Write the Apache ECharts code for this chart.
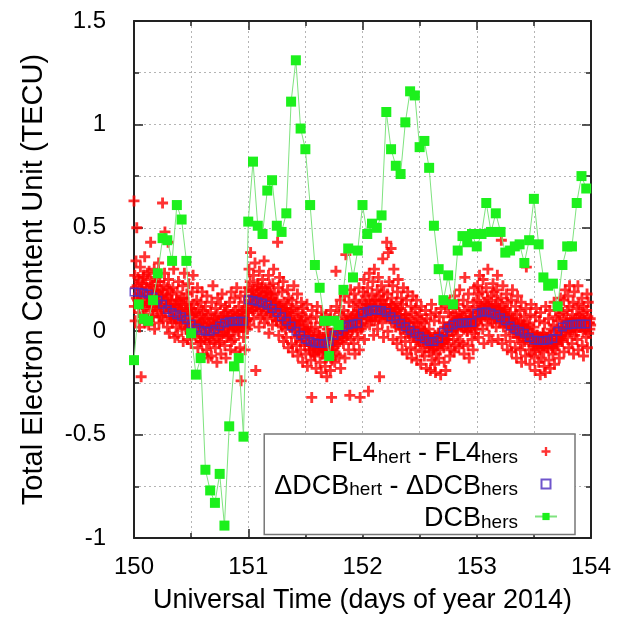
<!DOCTYPE html>
<html>
<head>
<meta charset="utf-8">
<script src="https://cdn.jsdelivr.net/npm/echarts@6.0.0/dist/echarts.min.js"></script>
<style>
html,body{margin:0;padding:0;background:#fff;}
#chart{width:618px;height:620px;}
</style>
</head>
<body>
<div id="chart"></div>
<script>
// ---- data ----
const xTickLabels = [150, 151, 152, 153, 154];
const yTickLabels = [-1, -0.5, 0, 0.5, 1, 1.5];
const seriesNames = ['FL4hert - FL4hers', 'ΔDCBhert - ΔDCBhers', 'DCBhers'];

// hourly samples starting at day 150.0
const dcbDiff = [
  0.19,0.188,0.185,0.18,0.165,0.15,0.13,0.105,0.09,0.08,0.07,0.055,0.035,0.015,0.005,0.0,0.0,0.01,0.025,0.04,0.046,0.048,0.048,0.048,
  0.152,0.148,0.143,0.136,0.127,0.11,0.09,0.07,0.048,0.025,0.0,-0.02,-0.04,-0.05,-0.057,-0.06,-0.06,-0.05,-0.02,0.0,0.02,0.03,0.035,0.038,
  0.088,0.095,0.102,0.103,0.1,0.09,0.07,0.055,0.038,0.022,0.005,-0.01,-0.025,-0.038,-0.05,-0.05,-0.035,-0.005,0.015,0.03,0.038,0.04,0.041,0.042,
  0.087,0.092,0.094,0.088,0.08,0.065,0.05,0.025,0.01,0.0,-0.01,-0.03,-0.043,-0.045,-0.045,-0.043,-0.035,0.0,0.02,0.03,0.033,0.035,0.035,0.035
];

const dcbHers = [
  -0.14,0.13,0.06,0.05,0.15,0.28,0.45,0.44,0.34,0.61,0.54,0.34,-0.01,-0.21,-0.13,-0.67,-0.77,-0.83,-0.69,-0.94,-0.46,-0.17,-0.13,-0.51,
  0.53,0.82,0.51,0.47,0.68,0.73,0.51,0.48,0.57,1.11,1.31,0.98,0.88,0.61,0.32,0.21,0.05,-0.12,0.05,0.03,0.20,0.40,0.26,0.39,
  0.61,0.47,0.52,0.50,0.56,1.06,0.88,0.80,0.76,1.01,1.16,1.14,0.89,0.92,0.79,0.51,0.30,0.15,0.27,0.13,0.39,0.46,0.43,0.47,
  0.41,0.47,0.62,0.48,0.57,0.48,0.38,0.39,0.41,0.42,0.33,0.44,0.64,0.42,0.26,0.22,0.23,0.12,0.32,0.41,0.41,0.62,0.75,0.69
];

// 12 samples per hour (every 5 minutes) starting at day 150.0
const fl4PerHour = 12;
const fl4Diff = [
  0.63,0.12,0.27,0.05,0.21,0.34,0.16,0.50,0.22,0.15,0.26,0.18,
  0.09,0.24,0.02,0.18,0.31,0.13,-0.22,0.20,0.16,0.23,0.12,0.27,
  0.26,0.11,0.19,0.36,0.04,0.15,0.23,0.08,0.21,0.14,0.28,0.17,
  0.14,0.03,0.29,0.19,0.10,0.25,0.43,0.17,0.12,0.22,0.16,0.07,
  0.22,0.07,0.16,0.30,0.01,0.12,0.20,0.26,0.19,0.11,0.24,0.14,
  0.10,0.19,0.33,0.04,0.15,0.24,0.08,0.13,0.12,0.20,0.07,0.17,
  0.62,0.18,0.05,0.22,0.11,0.28,0.48,0.14,0.09,0.16,0.12,0.21,
  0.02,0.17,0.43,0.25,0.13,-0.01,0.20,0.07,0.13,0.06,0.10,0.18,
  0.15,0.04,0.21,0.10,0.30,0.06,0.13,-0.03,0.07,0.12,0.02,0.15,
  0.08,0.19,-0.02,0.12,0.24,0.05,0.15,0.10,0.11,0.04,0.16,0.07,
  0.13,0.01,0.09,0.22,-0.05,0.16,0.06,0.28,0.04,0.10,0.13,0.01,
  0.05,0.18,0.10,-0.04,0.14,0.02,0.23,0.08,0.08,0.03,-0.01,0.11,
  -0.06,0.11,0.04,0.19,0.08,0.27,0.00,0.13,0.05,-0.02,0.09,0.02,
  0.09,-0.03,0.15,0.05,0.21,-0.08,0.11,0.03,-0.01,0.04,0.07,-0.05,
  0.02,0.14,-0.05,0.08,0.19,0.04,-0.11,0.10,0.03,-0.04,0.06,0.00,
  0.12,-0.02,0.06,-0.09,0.17,0.01,0.08,-0.13,-0.03,0.04,-0.06,0.02,
  -0.04,0.09,0.02,-0.12,0.14,-0.01,0.05,0.22,0.03,-0.05,0.01,0.06,
  0.06,-0.08,0.11,-0.02,0.03,-0.15,0.08,0.16,-0.02,0.05,0.02,-0.06,
  -0.05,0.02,0.13,-0.11,0.07,-0.02,0.18,0.04,0.04,-0.01,0.07,0.00,
  0.09,-0.07,0.01,0.12,-0.13,0.05,-0.03,0.10,0.02,0.07,-0.02,0.05,
  -0.02,0.14,0.04,-0.09,0.08,0.19,-0.05,0.02,0.06,0.01,0.09,0.03,
  0.07,-0.04,0.16,0.01,0.10,-0.10,0.04,0.21,0.03,0.08,0.00,0.06,
  0.12,0.00,0.06,-0.08,0.17,0.03,-0.24,0.09,0.07,0.02,0.10,0.04,
  -0.03,0.08,0.14,0.02,-0.09,0.19,0.05,0.11,0.05,0.09,0.01,0.06,
  0.21,0.09,0.30,0.15,0.03,0.24,0.38,0.12,0.17,0.13,0.20,0.10,
  0.17,0.27,0.06,0.20,0.11,0.33,0.14,-0.19,0.12,0.18,0.15,0.23,
  0.10,0.22,0.16,0.02,0.29,0.13,0.19,0.07,0.17,0.11,0.21,0.14,
  0.25,0.08,0.18,0.12,0.34,0.04,0.15,0.21,0.10,0.16,0.13,0.19,
  0.06,0.19,0.11,0.27,-0.01,0.14,0.22,0.09,0.15,0.09,0.18,0.12,
  0.16,0.03,0.23,0.10,0.30,0.07,0.18,0.13,0.08,0.14,0.11,0.05,
  0.05,0.15,0.43,0.09,0.21,-0.02,0.12,0.26,0.12,0.07,0.10,0.03,
  0.11,0.19,0.02,0.08,0.24,-0.05,0.14,0.06,0.04,0.09,0.01,0.11,
  -0.03,0.13,0.05,0.20,0.09,-0.08,0.16,0.03,0.07,0.02,0.05,0.10,
  0.08,-0.06,0.15,0.02,-0.10,0.11,0.04,0.22,0.00,0.05,0.03,-0.03,
  0.01,0.12,-0.07,0.06,0.18,-0.12,0.09,-0.02,0.03,-0.02,0.05,-0.05,
  -0.09,0.05,0.14,-0.03,0.08,-0.15,0.02,0.11,-0.04,0.01,-0.07,0.00,
  0.07,-0.11,0.01,-0.05,0.13,-0.17,0.04,-0.02,-0.02,-0.07,0.00,-0.09,
  -0.07,0.06,-0.14,0.01,-0.32,0.10,-0.04,-0.10,-0.08,-0.03,-0.06,-0.11,
  -0.12,0.02,-0.06,-0.18,0.07,-0.09,0.12,-0.01,-0.04,-0.09,-0.02,-0.07,
  -0.02,-0.15,0.04,-0.08,-0.20,0.09,-0.11,-0.05,-0.08,-0.03,-0.10,-0.05,
  -0.09,0.03,-0.17,-0.04,0.08,-0.13,-0.22,0.01,-0.04,-0.09,-0.06,-0.01,
  0.05,-0.11,-0.02,-0.19,0.10,-0.07,-0.32,-0.14,-0.07,-0.02,-0.09,-0.04,
  -0.08,0.06,-0.15,0.01,-0.04,0.29,-0.11,0.12,-0.04,0.01,-0.06,-0.01,
  0.03,-0.12,0.09,-0.05,0.15,-0.18,0.00,0.07,0.02,-0.03,0.04,-0.01,
  -0.06,0.10,-0.01,0.17,-0.13,0.05,0.37,-0.03,0.00,0.05,0.02,-0.02,
  0.08,-0.09,0.14,0.02,-0.31,0.06,0.20,-0.04,0.05,0.01,0.07,0.03,
  0.01,0.12,-0.06,0.18,0.05,-0.11,0.09,0.15,0.02,0.06,0.00,0.08,
  0.10,-0.03,0.06,0.21,-0.09,0.13,-0.32,0.03,0.06,0.01,0.04,0.09,
  0.14,0.02,0.19,0.08,0.25,-0.04,0.11,0.17,0.11,0.06,0.13,0.09,
  0.06,0.21,0.10,-0.29,0.15,0.28,0.03,0.12,0.08,0.13,0.10,0.05,
  0.18,0.07,0.24,0.12,-0.02,0.15,0.30,0.05,0.12,0.08,0.15,0.10,
  0.09,0.20,0.01,0.13,0.26,0.06,0.17,-0.22,0.07,0.12,0.10,0.15,
  0.22,0.11,0.04,0.35,0.15,-0.03,0.19,0.08,0.13,0.07,0.11,0.09,
  0.13,0.43,0.07,0.18,0.00,0.38,0.10,0.24,0.06,0.11,0.08,0.13,
  0.40,0.05,0.16,0.09,0.22,-0.04,0.12,0.30,0.09,0.04,0.07,0.11,
  0.02,0.14,0.07,-0.06,0.19,0.10,0.25,0.04,0.03,0.08,0.05,0.01,
  0.11,-0.03,0.16,0.05,-0.09,0.13,0.01,0.21,0.06,0.02,0.04,0.08,
  -0.05,0.08,0.02,0.15,-0.11,0.05,0.19,-0.01,0.00,0.04,0.02,-0.02,
  0.06,-0.08,0.12,0.00,-0.13,0.09,-0.03,0.17,0.02,-0.02,0.04,0.00,
  -0.02,0.11,-0.09,0.04,0.15,-0.14,0.07,-0.05,-0.03,0.01,-0.01,-0.05,
  0.08,-0.06,0.02,-0.16,0.12,-0.03,0.05,-0.10,-0.01,-0.05,-0.03,0.00,
  -0.12,0.04,-0.07,0.10,-0.01,-0.18,0.06,-0.04,-0.06,-0.02,-0.04,-0.08,
  0.01,-0.10,-0.03,-0.19,0.08,-0.06,0.13,-0.14,-0.03,-0.07,-0.05,-0.09,
  -0.08,0.05,-0.16,-0.02,-0.20,0.09,-0.11,-0.05,-0.07,-0.03,-0.05,-0.01,
  -0.13,-0.01,0.07,-0.09,-0.04,-0.21,0.11,-0.06,-0.05,-0.02,-0.06,-0.03,
  0.04,-0.08,-0.15,0.02,-0.05,0.12,-0.19,-0.02,-0.02,0.01,-0.04,0.02,
  -0.06,0.09,-0.02,0.14,-0.12,0.03,0.07,-0.09,0.03,0.00,0.04,0.01,
  0.11,-0.04,0.05,-0.10,0.17,0.01,-0.07,0.08,0.01,0.05,0.02,0.06,
  -0.02,0.13,0.04,-0.08,0.09,0.20,-0.05,0.06,0.05,0.02,0.06,0.03,
  0.07,-0.06,0.15,0.01,-0.11,0.10,0.26,0.03,0.02,0.06,0.04,0.00,
  0.12,0.00,-0.07,0.18,0.05,-0.13,0.09,0.02,0.06,0.02,0.07,0.04,
  -0.04,0.10,0.06,-0.09,0.14,0.03,0.21,-0.01,0.03,0.07,0.01,0.05,
  0.15,0.04,0.22,0.09,-0.03,0.18,0.11,0.27,0.10,0.06,0.12,0.08,
  0.06,0.19,0.12,0.01,0.25,0.08,-0.06,0.14,0.07,0.11,0.09,0.13,
  0.21,0.10,0.03,0.16,0.30,0.07,0.13,-0.02,0.11,0.08,0.12,0.06,
  0.08,0.17,-0.05,0.12,0.04,0.23,0.10,0.19,0.06,0.10,0.08,0.12,
  0.13,0.02,0.20,0.07,0.27,0.15,-0.04,0.10,0.09,0.05,0.11,0.07,
  0.05,0.16,0.44,0.09,-0.06,0.12,0.22,0.02,0.04,0.08,0.06,0.10,
  0.11,-0.02,0.07,0.18,0.03,-0.09,0.14,0.06,0.07,0.03,0.05,0.02,
  -0.05,0.09,0.02,0.15,-0.10,0.06,0.20,-0.01,0.04,0.01,0.03,0.06,
  0.04,-0.08,0.12,0.00,-0.13,0.08,-0.03,0.17,-0.01,0.03,0.01,-0.03,
  -0.02,0.10,-0.09,0.05,0.14,-0.15,0.03,-0.06,0.02,-0.02,0.03,-0.01,
  0.07,-0.05,0.01,-0.12,0.11,0.31,-0.02,0.04,-0.03,0.01,-0.02,-0.05,
  -0.09,0.03,-0.16,0.08,-0.04,0.13,-0.11,-0.01,-0.01,-0.05,-0.03,-0.07,
  0.02,-0.12,-0.05,-0.19,0.07,-0.08,0.11,-0.02,-0.06,-0.02,-0.05,-0.08,
  -0.15,-0.03,0.05,-0.09,-0.21,0.09,-0.06,-0.13,-0.03,-0.07,-0.04,-0.01,
  -0.01,-0.10,-0.17,0.04,-0.07,-0.20,0.12,-0.04,-0.06,-0.03,-0.08,-0.05,
  -0.08,0.06,-0.14,-0.02,0.10,-0.18,-0.05,0.01,-0.02,-0.06,-0.04,-0.08,
  -0.11,0.03,-0.06,0.14,-0.16,0.00,-0.09,0.07,-0.05,-0.02,-0.06,-0.03,
  0.05,-0.07,0.11,-0.02,-0.13,0.08,-0.04,0.16,0.02,-0.02,0.01,-0.04,
  -0.05,0.09,0.02,0.15,-0.10,0.06,-0.01,0.20,0.00,0.04,0.02,0.05,
  0.10,-0.03,0.17,0.04,-0.08,0.12,0.22,0.00,0.05,0.01,0.04,0.02,
  -0.06,0.08,0.01,0.14,-0.11,0.05,0.19,-0.02,0.02,0.06,0.03,0.00,
  0.11,-0.04,0.06,0.22,-0.09,0.13,0.02,0.08,0.05,0.02,0.06,0.03,
  0.03,0.16,-0.07,0.09,0.00,-0.12,0.12,0.05,0.02,0.05,0.01,0.04,
  -0.03,0.10,0.18,-0.08,0.07,0.14,-0.01,0.04,0.04,0.01,0.06,0.03
];

// ---- build series data (time axis = day of year) ----
const startDay = 150;
const fl4Data = fl4Diff.map((v, k) => [startDay + k / (24 * fl4PerHour), v]);
const dcbDiffData = dcbDiff.map((v, i) => [startDay + i / 24, v]);
const dcbHersData = dcbHers.map((v, i) => [startDay + i / 24, v]);

const FONT = 'Liberation Sans, Arial, sans-serif';
const crossPath = 'path://M3.7,0H6.3V3.7H10V6.3H6.3V10H3.7V6.3H0V3.7H3.7Z';
const squarePath = 'path://M0,0H10V10H0Z';
const gridLine = { color: '#b4b4b4', type: [2, 3], width: 1 };
const axisCol = '#222';

const legendRich = {};
legendRich[seriesNames[0]] = '{m|FL4}{s|hert}{m| - FL4}{s|hers}{g| }';
legendRich[seriesNames[1]] = '{m|ΔDCB}{s|hert}{m| - ΔDCB}{s|hers}{g| }';
legendRich[seriesNames[2]] = '{m|DCB}{s|hers}{g| }';

function axisCommon(extra) {
  return Object.assign({
    type: 'value',
    axisLine: { show: true, onZero: false, lineStyle: { color: axisCol, width: 2 } },
    axisTick: { show: true, inside: true, length: 9, lineStyle: { color: axisCol, width: 1.5 } },
    minorTick: { show: true, splitNumber: 2, length: 5, lineStyle: { color: axisCol, width: 1.5 } },
    splitLine: { show: false },
    minorSplitLine: { show: false },
    axisLabel: { show: false }
  }, extra);
}

const option = {
  animation: false,
  backgroundColor: '#ffffff',
  grid: { left: 134, right: 27, top: 21, bottom: 82, outerBoundsMode: 'none' },
  xAxis: [
    axisCommon({
      min: xTickLabels[0], max: xTickLabels[xTickLabels.length - 1], interval: 1,
      position: 'bottom',
      splitLine: { show: true, lineStyle: gridLine },
      minorSplitLine: { show: true, lineStyle: gridLine },
      axisLabel: { show: true, fontFamily: FONT, fontSize: 24, color: '#000', margin: 17,
        formatter: v => xTickLabels.includes(v) ? String(v) : '' },
      name: 'Universal Time (days of year 2014)',
      nameLocation: 'middle', nameGap: 49,
      nameTextStyle: { fontFamily: FONT, fontSize: 27, color: '#000' }
    }),
    axisCommon({
      min: xTickLabels[0], max: xTickLabels[xTickLabels.length - 1], interval: 1,
      position: 'top'
    })
  ],
  yAxis: [
    axisCommon({
      min: yTickLabels[0], max: yTickLabels[yTickLabels.length - 1], interval: 0.5,
      position: 'left',
      splitLine: { show: true, lineStyle: gridLine },
      minorSplitLine: { show: true, lineStyle: gridLine },
      axisLabel: { show: true, fontFamily: FONT, fontSize: 24, color: '#000', margin: 28,
        formatter: v => String(v) },
      name: 'Total Electron Content Unit (TECU)',
      nameLocation: 'middle', nameGap: 86, nameRotate: 90,
      nameTextStyle: { fontFamily: FONT, fontSize: 29, color: '#000' }
    }),
    axisCommon({
      min: yTickLabels[0], max: yTickLabels[yTickLabels.length - 1], interval: 0.5,
      position: 'right'
    })
  ],
  legend: {
    orient: 'vertical', align: 'right',
    right: 43, top: 434,
    padding: [2, 17, 2, 10],
    itemGap: 1, itemWidth: 22, itemHeight: 9,
    backgroundColor: '#ffffff', borderColor: '#777', borderWidth: 1.5, borderRadius: 0,
    data: [
      { name: seriesNames[0], icon: crossPath },
      { name: seriesNames[1], icon: squarePath },
      { name: seriesNames[2] }
    ],
    formatter: name => legendRich[name],
    textStyle: {
      fontFamily: FONT, color: '#000',
      rich: {
        m: { fontFamily: FONT, fontSize: 27, color: '#000', lineHeight: 22, verticalAlign: 'top' },
        s: { fontFamily: FONT, fontSize: 19, color: '#000', lineHeight: 18, padding: [12, 0, 0, 0] },
        g: { fontFamily: FONT, fontSize: 10, width: 12 }
      }
    }
  },
  series: [
    {
      name: seriesNames[0], type: 'scatter', xAxisIndex: 0, yAxisIndex: 0,
      data: fl4Data, symbol: crossPath, symbolSize: 11,
      itemStyle: { color: '#ff0000' }, z: 2, silent: true
    },
    {
      name: seriesNames[1], type: 'scatter', xAxisIndex: 0, yAxisIndex: 0,
      data: dcbDiffData, symbol: 'rect', symbolSize: 7.5,
      itemStyle: { color: 'rgba(0,0,0,0)', borderColor: '#4b2bbf', borderWidth: 1.5 }, z: 3, silent: true
    },
    {
      name: seriesNames[2], type: 'line', xAxisIndex: 0, yAxisIndex: 0,
      data: dcbHersData, symbol: 'rect', symbolSize: 10, showAllSymbol: true,
      lineStyle: { color: '#7fe37f', width: 1 },
      itemStyle: { color: '#1cf01c' }, z: 4, silent: true
    }
  ]
};

const chart = echarts.init(document.getElementById('chart'), null, { renderer: 'canvas' });
chart.setOption(option);
</script>
</body>
</html>
